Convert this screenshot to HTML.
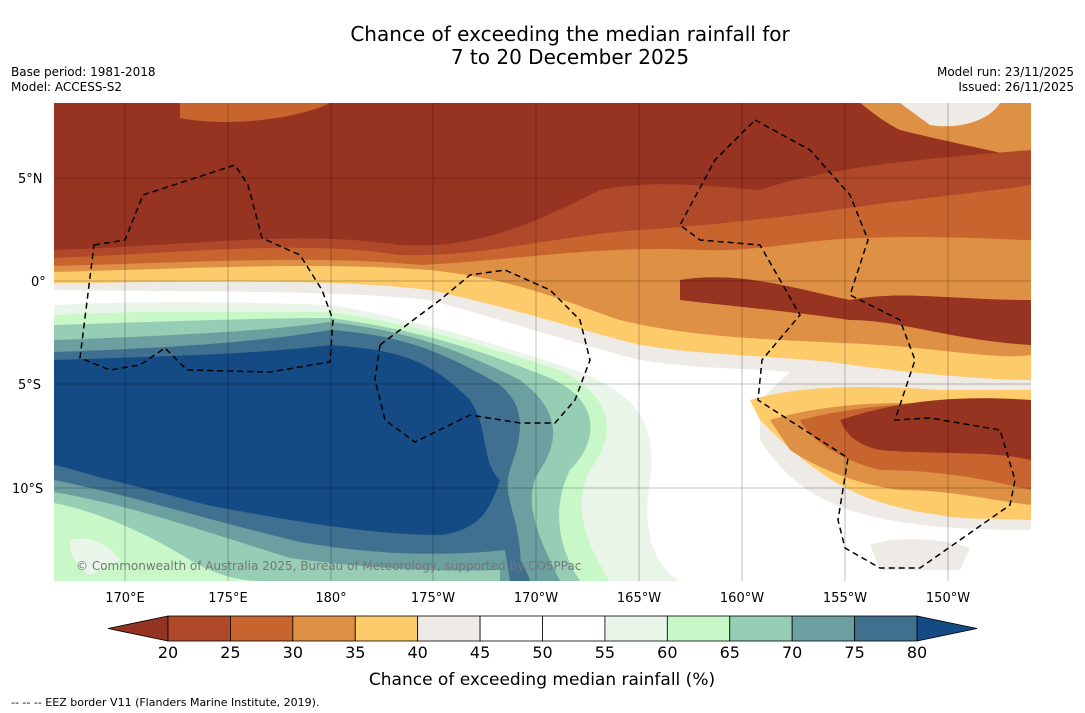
<!DOCTYPE html>
<html><head><meta charset="utf-8">
<style>
body{margin:0;background:#fff;width:1085px;height:713px;overflow:hidden;font-family:"Liberation Sans",sans-serif;}
svg{display:block}
text{font-family:"DejaVu Sans","Liberation Sans",sans-serif;}
</style></head>
<body>
<svg width="1085" height="713" viewBox="0 0 1085 713">
<defs><clipPath id="mc"><rect x="54" y="103" width="977" height="478"/></clipPath></defs>
<text x="570" y="41" font-size="20" text-anchor="middle">Chance of exceeding the median rainfall for</text>
<text x="570" y="64" font-size="20" text-anchor="middle">7 to 20 December 2025</text>
<text x="11" y="76" font-size="12">Base period: 1981-2018</text>
<text x="11" y="91" font-size="12">Model: ACCESS-S2</text>
<text x="1074" y="76" font-size="12" text-anchor="end">Model run: 23/11/2025</text>
<text x="1074" y="91" font-size="12" text-anchor="end">Issued: 26/11/2025</text>

<g clip-path="url(#mc)">
<rect x="54" y="103" width="977" height="478" fill="#973321"/>
<path d="M180,103 L330,103 C300,118 230,128 180,118Z" fill="#C8652F"/>
<path d="M860,103 L1031,103 L1031,160 C990,150 940,140 900,130 C880,120 870,110 860,103Z" fill="#DE9044"/>
<path d="M900,103 L1000,103 C990,120 960,130 930,125Z" fill="#EEEAE6"/>
<path d="M600,190 C650,180 700,185 760,190 C820,170 900,160 1031,150 L1031,581 L54,581 L54,250 C200,245 300,230 400,245 C480,250 540,220 600,190Z" fill="#B0492A"/>
<path d="M54,258 C200,252 300,240 400,255 C480,258 560,235 640,230 C720,225 800,215 870,205 C950,195 1000,190 1031,185 L1031,581 L54,581Z" fill="#C8652F"/>
<path d="M54,266 C200,262 320,255 420,265 C520,260 600,245 700,250 C760,252 800,240 860,238 C950,235 1000,240 1031,240 L1031,581 L54,581Z" fill="#DE9044"/>
<path d="M680,280 C740,270 800,290 850,300 C900,290 950,300 1031,300 L1031,345 C950,340 900,320 850,320 C780,310 720,305 680,300Z" fill="#973321"/>
<path d="M54,272 C200,268 320,262 430,270 C520,280 560,300 620,320 C700,340 800,340 880,345 C950,350 1000,360 1031,355 L1031,581 L54,581Z" fill="#FDCB6A"/>
<path d="M54,283 C200,282 330,278 430,290 C520,310 580,330 640,345 C700,355 760,355 830,362 C900,372 980,380 1031,380 L1031,581 L54,581Z" fill="#EEEAE6"/>
<path d="M54,290 C200,292 330,290 430,300 C520,325 580,345 640,360 C700,370 760,368 790,372 L760,400 L760,440 C800,500 850,530 1031,530 L1031,581 L54,581Z" fill="#ffffff"/>
<!-- right lower warm -->
<path d="M750,400 C800,385 870,385 940,390 L1031,390 L1031,520 C990,518 960,520 940,515 C900,510 870,500 850,490 C810,470 780,440 760,420Z" fill="#FDCB6A"/>
<path d="M770,420 C820,405 880,400 950,405 L1031,405 L1031,505 C990,500 950,490 900,490 C860,485 820,470 790,450Z" fill="#DE9044"/>
<path d="M800,420 C860,405 920,400 1031,405 L1031,490 C990,480 940,470 880,470 C840,460 810,440 800,420Z" fill="#C8652F"/>
<path d="M840,420 C900,400 960,395 1031,400 L1031,460 C990,450 930,455 880,450 C855,445 845,432 840,420Z" fill="#973321"/>
<path d="M870,545 C900,535 940,538 970,548 L960,570 L880,570Z" fill="#EEEAE6"/>
<!-- greens/blues left -->
<path d="M54,305 C150,300 250,302 330,305 C420,320 480,340 560,365 C620,385 660,410 650,480 C640,540 660,570 680,581 L54,581Z" fill="#EAF5EA"/>
<path d="M54,315 C150,310 250,312 330,312 C420,325 480,345 560,370 C610,395 620,430 590,470 C570,510 590,550 610,581 L54,581Z" fill="#C8F8C8"/>
<path d="M54,325 C150,322 260,318 330,318 C420,330 480,350 550,378 C600,400 600,440 570,470 C550,510 560,550 580,581 L54,581Z" fill="#97CDB4"/>
<path d="M54,340 C160,336 260,332 330,322 C400,330 450,345 520,380 C560,410 560,440 540,470 C520,500 540,540 560,581 L54,581Z" fill="#6B9FA0"/>
<path d="M54,352 C170,348 260,342 330,330 C400,335 440,350 500,385 C530,410 520,440 510,470 C500,500 525,520 520,581 L54,581Z" fill="#3F7090"/>
<path d="M54,360 C170,356 260,354 330,345 C400,350 430,360 470,400 C490,430 480,460 500,480 C490,510 480,530 440,535 C360,535 260,515 180,500 C120,485 80,470 54,465Z" fill="#154B85"/>
<path d="M54,468 C130,482 200,505 300,528 C380,545 450,548 500,535 C515,550 525,565 530,581 L54,581Z" fill="#3F7090"/>
<path d="M54,480 C130,495 200,518 300,542 C380,556 450,556 505,550 L510,581 L54,581Z" fill="#6B9FA0"/>
<path d="M54,492 C130,505 200,530 290,558 C380,570 450,572 500,570 L500,581 L54,581Z" fill="#97CDB4"/>
<path d="M54,503 C100,512 150,535 190,560 C215,575 240,581 260,581 L54,581Z" fill="#C8F8C8"/>
<path d="M70,540 C90,535 110,545 120,560 L90,575 C75,565 68,552 70,540Z" fill="#EAF5EA"/>
<g stroke="#000" stroke-width="0.5" opacity="0.5">
<line x1="125" y1="103" x2="125" y2="581"/><line x1="228" y1="103" x2="228" y2="581"/>
<line x1="331" y1="103" x2="331" y2="581"/><line x1="433" y1="103" x2="433" y2="581"/>
<line x1="536" y1="103" x2="536" y2="581"/><line x1="639" y1="103" x2="639" y2="581"/>
<line x1="742" y1="103" x2="742" y2="581"/><line x1="845" y1="103" x2="845" y2="581"/>
<line x1="948" y1="103" x2="948" y2="581"/>
<line x1="54" y1="178" x2="1031" y2="178"/><line x1="54" y1="281" x2="1031" y2="281"/>
<line x1="54" y1="384" x2="1031" y2="384"/><line x1="54" y1="488" x2="1031" y2="488"/>
</g>
<g fill="none" stroke="#000" stroke-width="1.5" stroke-dasharray="6,4">
<path d="M94,245 L125,240 L143,195 L235,165 L248,185 L262,238 L300,255 L322,290 L333,320 L330,362 L270,372 L187,370 L165,348 L140,365 L110,370 L80,358Z"/>
<path d="M380,345 L440,300 L470,275 L505,270 L550,290 L580,320 L590,360 L575,400 L555,423 L520,423 L470,415 L415,442 L385,420 L375,380Z"/>
<path d="M755,120 L810,150 L850,195 L868,240 L850,295 L900,320 L915,360 L895,420 L930,418 L1000,430 L1015,480 L1010,505 L960,540 L920,568 L880,568 L845,548 L838,520 L848,458 L758,400 L762,360 L800,315 L760,245 L700,240 L680,225 L715,160Z"/>
</g>
<text x="76" y="570" font-size="12" fill="#777">© Commonwealth of Australia 2025, Bureau of Meteorology, supported by COSPPac</text>
</g>
<g font-size="13">
<text x="18" y="183">5°N</text>
<text x="31" y="286">0°</text>
<text x="18" y="389">5°S</text>
<text x="12" y="493">10°S</text>
<g text-anchor="middle">
<text x="125" y="602">170°E</text><text x="228" y="602">175°E</text><text x="331" y="602">180°</text>
<text x="433" y="602">175°W</text><text x="536" y="602">170°W</text><text x="639" y="602">165°W</text>
<text x="742" y="602">160°W</text><text x="845" y="602">155°W</text><text x="948" y="602">150°W</text>
</g></g>
<g id="cbar"></g>
<text x="542" y="685" font-size="17" text-anchor="middle">Chance of exceeding median rainfall (%)</text>
<text x="11" y="706" font-size="11">--  --  -- EEZ border V11 (Flanders Marine Institute, 2019).</text>
</svg>
<script>
const tickValues=[20,25,30,35,40,45,50,55,60,65,70,75,80];
const binColors=["#B0492A","#C8652F","#DE9044","#FDCB6A","#EEEAE6","#ffffff","#ffffff","#EAF5EA","#C8F8C8","#97CDB4","#6B9FA0","#3F7090"];
const lowColor="#933322", highColor="#154B85";
const NS="http://www.w3.org/2000/svg";
const g=document.getElementById('cbar');
const x0=168,x1=917,y0=616,h=25;
const sx=v=>x0+(v-20)/(80-20)*(x1-x0);
function mk(t,a){const e=document.createElementNS(NS,t);for(const k in a)e.setAttribute(k,a[k]);g.appendChild(e);return e;}
let lt=mk('polygon',{points:`108,${y0+h/2} ${x0},${y0} ${x0},${y0+h}`,fill:lowColor,stroke:'#000','stroke-width':0.8});


let rt=mk('polygon',{points:`977,${y0+h/2} ${x1},${y0} ${x1},${y0+h}`,fill:highColor,stroke:'#000','stroke-width':0.8});


binColors.forEach((c,i)=>{
 const a=sx(tickValues[i]),b=sx(tickValues[i+1]);
 const r=mk('rect',{x:a,y:y0,width:b-a,height:h,fill:c,stroke:'#000','stroke-width':0.8});
 
 
});
tickValues.forEach(v=>{
 const t=mk('text',{x:sx(v),y:658,'font-size':16,'text-anchor':'middle'});
 t.textContent=v;
 
 
});
</script>
</body></html>
